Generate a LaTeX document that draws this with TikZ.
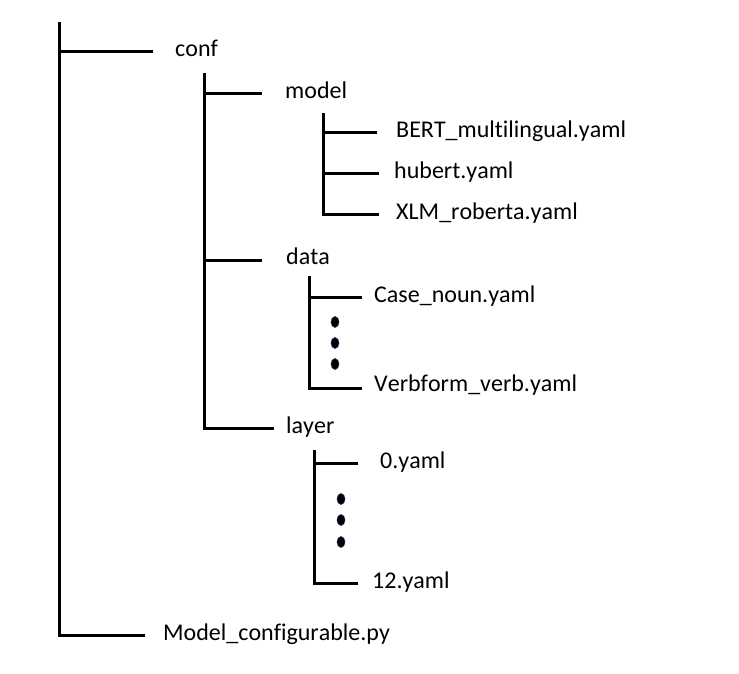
\documentclass[tikz,border=0pt]{standalone}
\usepackage{fontspec}
\setmainfont{Carlito}[Ligatures={NoCommon}, Kerning=Off]
\usepackage{xcolor}
\usetikzlibrary{shapes.geometric}
\definecolor{navy}{HTML}{1F2F5F}
\tikzset{
  tree/.style={draw=black, line width=3pt},
  item/.style={anchor=mid west, inner sep=0pt, yshift=-3pt, font=\fontsize{24}{28}\selectfont},
  vdot/.style={ellipse, fill=black, draw=navy, line width=0.6pt, minimum width=8pt, minimum height=11pt, inner sep=0pt},
}

\begin{document}
\begin{tikzpicture}[x=1pt,y=-1pt]
  \useasboundingbox (0,0) rectangle (739,673);
  % top of each vertical line
  \coordinate (root) at (59,22);
  \coordinate (confv) at (204,73);
  \coordinate (modelv) at (323,113);
  \coordinate (datav) at (309,276);
  \coordinate (layerv) at (314,450);
  % ends of the branch lines
  \coordinate (conf-e) at (153,51);
  \coordinate (py-e) at (145,635);
  \coordinate (model-e) at (262,93);
  \coordinate (data-e) at (262,260);
  \coordinate (layer-e) at (274,428);
  \coordinate (bert-e) at (377,132);
  \coordinate (hubert-e) at (379,173);
  \coordinate (xlm-e) at (379,214);
  \coordinate (case-e) at (362,297);
  \coordinate (verb-e) at (362,388);
  \coordinate (zero-e) at (358,463);
  \coordinate (twelve-e) at (358,583);
  % labels
  \node[item] (conf) at (175,51) {conf};
  \node[item] (py) at (163,635) {Model\_configurable.py};
  \node[item] (model) at (285,93) {model};
  \node[item] (data) at (286,259) {data};
  \node[item] (layer) at (286,428) {layer};
  \node[item] (bert) at (396,132) {BERT\_multilingual.yaml};
  \node[item] (hubert) at (394,173) {hubert.yaml};
  \node[item] (xlm) at (396,214) {XLM\_roberta.yaml};
  \node[item] (case) at (374,297) {Case\_noun.yaml};
  \node[item] (verb) at (374,386) {Verbform\_verb.yaml};
  \node[item] (zero) at (380,463) {0.yaml};
  \node[item] (twelve) at (372,583) {12.yaml};
  % tree
  \draw[tree] (root) |- (py-e);
  \draw[tree] (root |- conf-e) -- (conf-e);
  \draw[tree] (confv) |- (layer-e);
  \draw[tree] (confv |- model-e) -- (model-e);
  \draw[tree] (confv |- data-e) -- (data-e);
  \draw[tree] (modelv) |- (xlm-e);
  \draw[tree] (modelv |- bert-e) -- (bert-e);
  \draw[tree] (modelv |- hubert-e) -- (hubert-e);
  \draw[tree] (datav) |- (verb-e);
  \draw[tree] (datav |- case-e) -- (case-e);
  \draw[tree] (layerv) |- (twelve-e);
  \draw[tree] (layerv |- zero-e) -- (zero-e);
  % dots
  \foreach \y [count=\i] in {322,343,364} {
    \node[vdot] (ddot\i) at (335,\y) {};
  }
  \foreach \y [count=\i] in {499,520,542} {
    \node[vdot] (ldot\i) at (341,\y) {};
  }
\end{tikzpicture}
\end{document}
